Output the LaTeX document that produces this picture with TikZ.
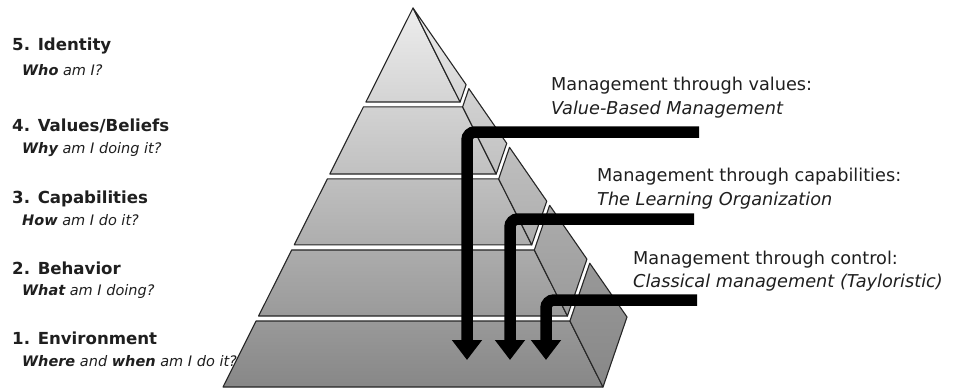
\documentclass[tikz,border=0pt]{standalone}
\usepackage{fontspec}
\setmainfont{DejaVu Sans}
\usetikzlibrary{calc,arrows.meta}
\tikzset{
  ttl/.style={font=\fontsize{16.6}{20}\selectfont\bfseries, text=black!88, anchor=base west, inner sep=0pt},
  sub/.style={font=\fontsize{14.5}{17}\selectfont\itshape, text=black!88, anchor=base west, inner sep=0pt},
  rtxt/.style={font=\fontsize{17.7}{21}\selectfont, text=black!88, anchor=base west, inner sep=0pt},
  rit/.style={font=\fontsize{17.7}{21}\selectfont\itshape, text=black!88, anchor=base west, inner sep=0pt},
  tier/.style={draw=black!85, line width=1.1pt, line join=round},
  bigarrow/.style={line width=11.5pt, rounded corners=8pt, -{Triangle[width=29pt,length=20pt]}}
}
\begin{document}
\begin{tikzpicture}[x=1pt,y=-1pt]
\fill[white] (0,0) rectangle (953,388);
\useasboundingbox (0,0) rectangle (953,388);
% pyramid corners
\coordinate (A) at (413,8);
\coordinate (B) at (223,387);
\coordinate (C) at (603,387);
\coordinate (D) at (627,317);
\foreach \ta/\tb in {0/0.248, 0.261/0.438, 0.451/0.625, 0.6385/0.8127, 0.8259/1} {
  \pgfmathsetmacro\ca{7+40*\ta}
  \pgfmathsetmacro\cb{7+40*\tb}
  \shadedraw[tier, top color=black!\ca, bottom color=black!\cb]
    ($(A)!\ta!(B)$) -- ($(A)!\ta!(C)$) -- ($(A)!\tb!(C)$) -- ($(A)!\tb!(B)$) -- cycle;
  \shadedraw[tier, top color=black!\ca, bottom color=black!\cb]
    ($(A)!\ta!(C)$) -- ($(A)!\ta!(D)$) -- ($(A)!\tb!(D)$) -- ($(A)!\tb!(C)$) -- cycle;
}
% left labels
\node[ttl] (t5) at (12,50.5) {5. Identity};
\node[sub] (s5) at (22,75) {\textbf{Who} am I?};
\node[ttl] (t4) at (12,131.5) {4. Values/Beliefs};
\node[sub] (s4) at (22,153.5) {\textbf{Why} am I doing it?};
\node[ttl] (t3) at (12,203) {3. Capabilities};
\node[sub] (s3) at (22,225) {\textbf{How} am I do it?};
\node[ttl] (t2) at (12,274) {2. Behavior};
\node[sub] (s2) at (22,295.5) {\textbf{What} am I doing?};
\node[ttl] (t1) at (12,344) {1. Environment};
\node[sub] (s1) at (22,366.5) {\textbf{Where} and \textbf{when} am I do it?};
% right labels
\node[rtxt] (m1a) at (551,90) {Management through values:};
\node[rit]  (m1b) at (551,114) {Value-Based Management};
\node[rtxt] (m2a) at (597,181) {Management through capabilities:};
\node[rit]  (m2b) at (597,205) {The Learning Organization};
\node[rtxt] (m3a) at (633,264) {Management through control:};
\node[rit]  (m3b) at (633,287) {Classical management (Tayloristic)};
% arrows
\coordinate (a1s) at (699,132);
\coordinate (a1e) at (467,360);
\coordinate (a2s) at (694,219);
\coordinate (a2e) at (510,360);
\coordinate (a3s) at (697,300);
\coordinate (a3e) at (546,360);
\draw[bigarrow] (a1s) -| (a1e);
\draw[bigarrow] (a2s) -| (a2e);
\draw[bigarrow] (a3s) -| (a3e);
\end{tikzpicture}
\end{document}
